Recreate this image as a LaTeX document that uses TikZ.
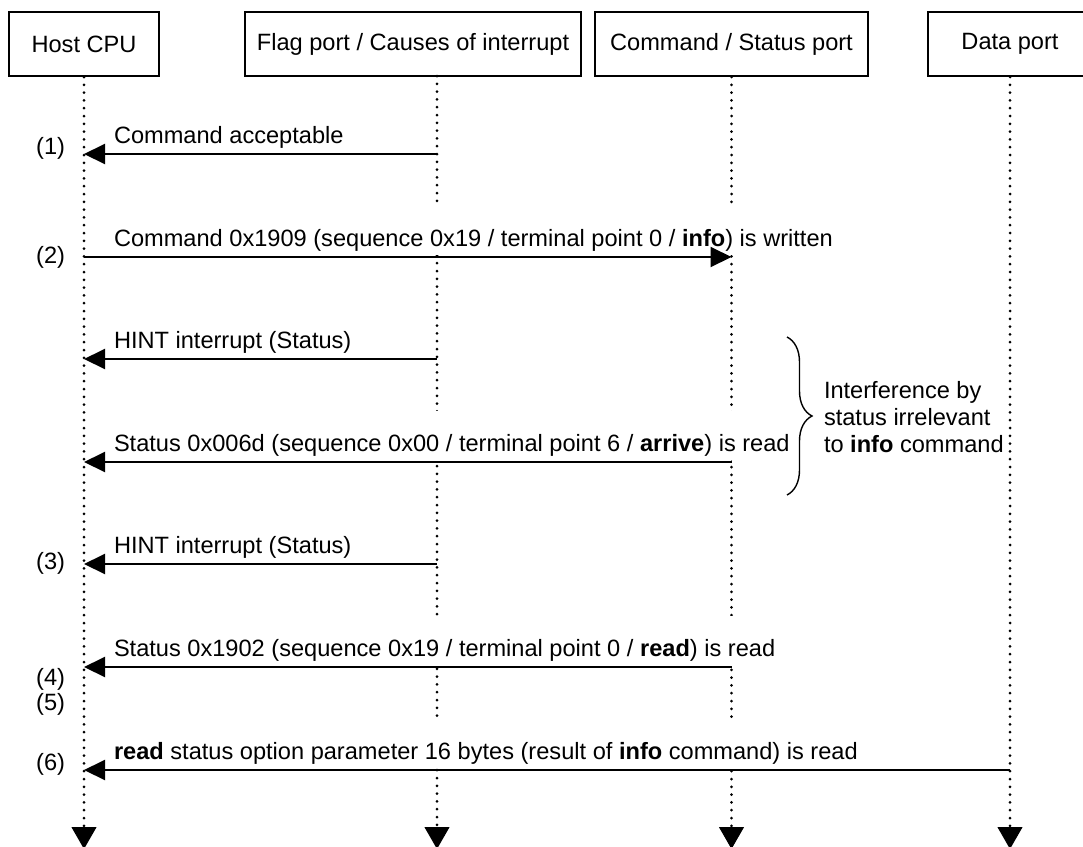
\documentclass[tikz,border=0pt]{standalone}
\usepackage{fontspec}
\setmainfont{Liberation Sans}
\usetikzlibrary{arrows.meta,decorations.pathreplacing}
\tikzset{every picture/.style={line width=1pt}}

\begin{document}
\begin{tikzpicture}[x=0.5pt,y=-0.5pt,
  font=\fontsize{11.8}{13.35}\selectfont,
  actor/.style={draw,minimum height=32pt,inner sep=0pt},
  life/.style={line width=1.5pt,line cap=round,dash pattern=on 0pt off 3.9pt,
    -{Triangle[length=11pt,width=12.5pt,line width=0.5pt]}},
  msg/.style={-{Triangle[length=10.5pt,width=10pt]}},
  lbl/.style={anchor=south west,fill=white,inner sep=0pt,text height=20pt,text depth=4.25pt},
  num/.style={anchor=east,inner sep=0pt}]
  \clip (0,0) rectangle (1083,847);

  \node [actor,minimum width=75pt]    (host) at (84,44)    {Host CPU};
  \node [actor,minimum width=168pt]   (flag) at (413,44)   {Flag port / Causes of interrupt};
  \node [actor,minimum width=136.5pt] (cmd)  at (731.5,44) {Command / Status port};
  \node [actor,minimum width=82pt]    (data) at (1010,44)  {Data port};

  \coordinate (host-top) at (host.south);
  \coordinate (flag-top) at (437,76);
  \coordinate (cmd-top)  at (cmd.south);
  \coordinate (data-top) at (data.south);
  \coordinate (bottom)   at (0,849);
  \foreach \n in {host,flag,cmd,data}
    \draw [life] (\n-top) -- (\n-top |- bottom);

  \foreach \r/\y in {1/154,2/257,3/359,4/462,5/564,6/667,7/770}
    \coordinate (r\r) at (0,\y);

  \node [lbl] (m1) at (113,152.5) {Command acceptable};
  \draw [msg] (flag-top |- r1) -- (host-top |- r1);
  \node [lbl] (m2) at (113,255.5) {Command 0x1909 (sequence 0x19 / terminal point 0 / \textbf{info}) is written};
  \draw [msg] (host-top |- r2) -- (cmd-top |- r2);
  \node [lbl] (m3) at (113,357.5) {HINT interrupt (Status)};
  \draw [msg] (flag-top |- r3) -- (host-top |- r3);
  \node [lbl] (m4) at (113,460.5) {Status 0x006d (sequence 0x00 / terminal point 6 / \textbf{arrive}) is read};
  \draw [msg] (cmd-top |- r4) -- (host-top |- r4);
  \node [lbl] (m5) at (113,562.5) {HINT interrupt (Status)};
  \draw [msg] (flag-top |- r5) -- (host-top |- r5);
  \node [lbl] (m6) at (113,665.5) {Status 0x1902 (sequence 0x19 / terminal point 0 / \textbf{read}) is read};
  \draw [msg] (cmd-top |- r6) -- (host-top |- r6);
  \node [lbl] (m7) at (113,768.5) {\textbf{read} status option parameter 16 bytes (result of \textbf{info} command) is read};
  \draw [msg] (data-top |- r7) -- (host-top |- r7);

  \node [num] (n1) at (66,148) {(1)};
  \node [num] (n2) at (66,257) {(2)};
  \node [num] (n3) at (66,563) {(3)};
  \node [num] (n4) at (66,679) {(4)};
  \node [num] (n5) at (66,704) {(5)};
  \node [num] (n6) at (66,764) {(6)};

  \draw [line width=0.7pt,decorate,decoration={brace,amplitude=12.5pt}]
    (787,337) coordinate (b1) -- (787,495) coordinate (b2);
  \node [anchor=west,align=left,inner sep=0pt] (note) at (823,417)
    {Interference by\\status irrelevant\\to \textbf{info} command};
\end{tikzpicture}
\end{document}
